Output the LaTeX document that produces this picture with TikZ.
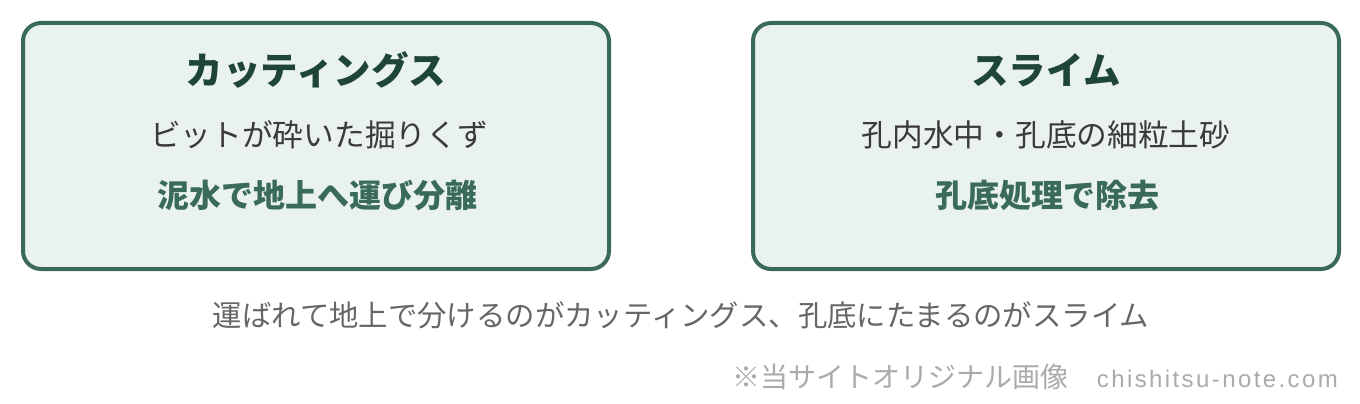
\documentclass[tikz,border=0pt]{standalone}
\usepackage{fontspec}
\setmainfont{Noto Sans CJK JP}
\newfontfamily\latinf[LetterSpace=10]{Liberation Sans}
\definecolor{boxborder}{HTML}{3A6A59}
\definecolor{boxfill}{HTML}{E9F2ED}
\definecolor{titlecol}{HTML}{1F4536}
\definecolor{keycol}{HTML}{3A6A59}
\definecolor{subcol}{HTML}{3A3A3A}
\definecolor{capcol}{HTML}{666666}
\definecolor{credcol}{HTML}{AAAAAA}
\begin{document}
\begin{tikzpicture}[x=1pt,y=-1pt,
  cardbox/.style={draw=boxborder,fill=boxfill,line width=4pt,rounded corners=18pt},
  ttltxt/.style={font=\fontsize{37.5}{42}\selectfont\bfseries,text=titlecol,anchor=center,inner sep=0pt},
  subtxt/.style={font=\fontsize{30.7}{36}\selectfont,text=subcol,anchor=center,inner sep=0pt},
  keytxt/.style={font=\fontsize{32}{38}\selectfont\bfseries,text=keycol,anchor=center,inner sep=0pt},
  captxt/.style={font=\fontsize{29.4}{34}\selectfont,text=capcol,anchor=center,inner sep=0pt},
  credtxt/.style={font=\fontsize{28}{32}\selectfont,text=credcol,anchor=east,inner sep=0pt}]
\useasboundingbox (0,0) rectangle (1360,404);
\draw[cardbox] (23,23) rectangle (609,269);
\draw[cardbox] (753,23) rectangle (1339,269);
\node[ttltxt] (t1) at (316,70) {カッティングス};
\node[subtxt] (s1) at (319,135) {ビットが砕いた掘りくず};
\node[keytxt] (k1) at (317,195) {泥水で地上へ運び分離};
\node[ttltxt] (t2) at (1046,70) {スライム};
\node[subtxt] (s2) at (1046,135) {孔内水中・孔底の細粒土砂};
\node[keytxt] (k2) at (1047,195) {孔底処理で除去};
\node[captxt] (c) at (681,315) {運ばれて地上で分けるのがカッティングス、孔底にたまるのがスライム};
\node[credtxt] (cr) at (1338,377) {※当サイトオリジナル画像\hspace{28pt}{\fontsize{24}{28}\selectfont\latinf chishitsu-note.com}};
\end{tikzpicture}
\end{document}
